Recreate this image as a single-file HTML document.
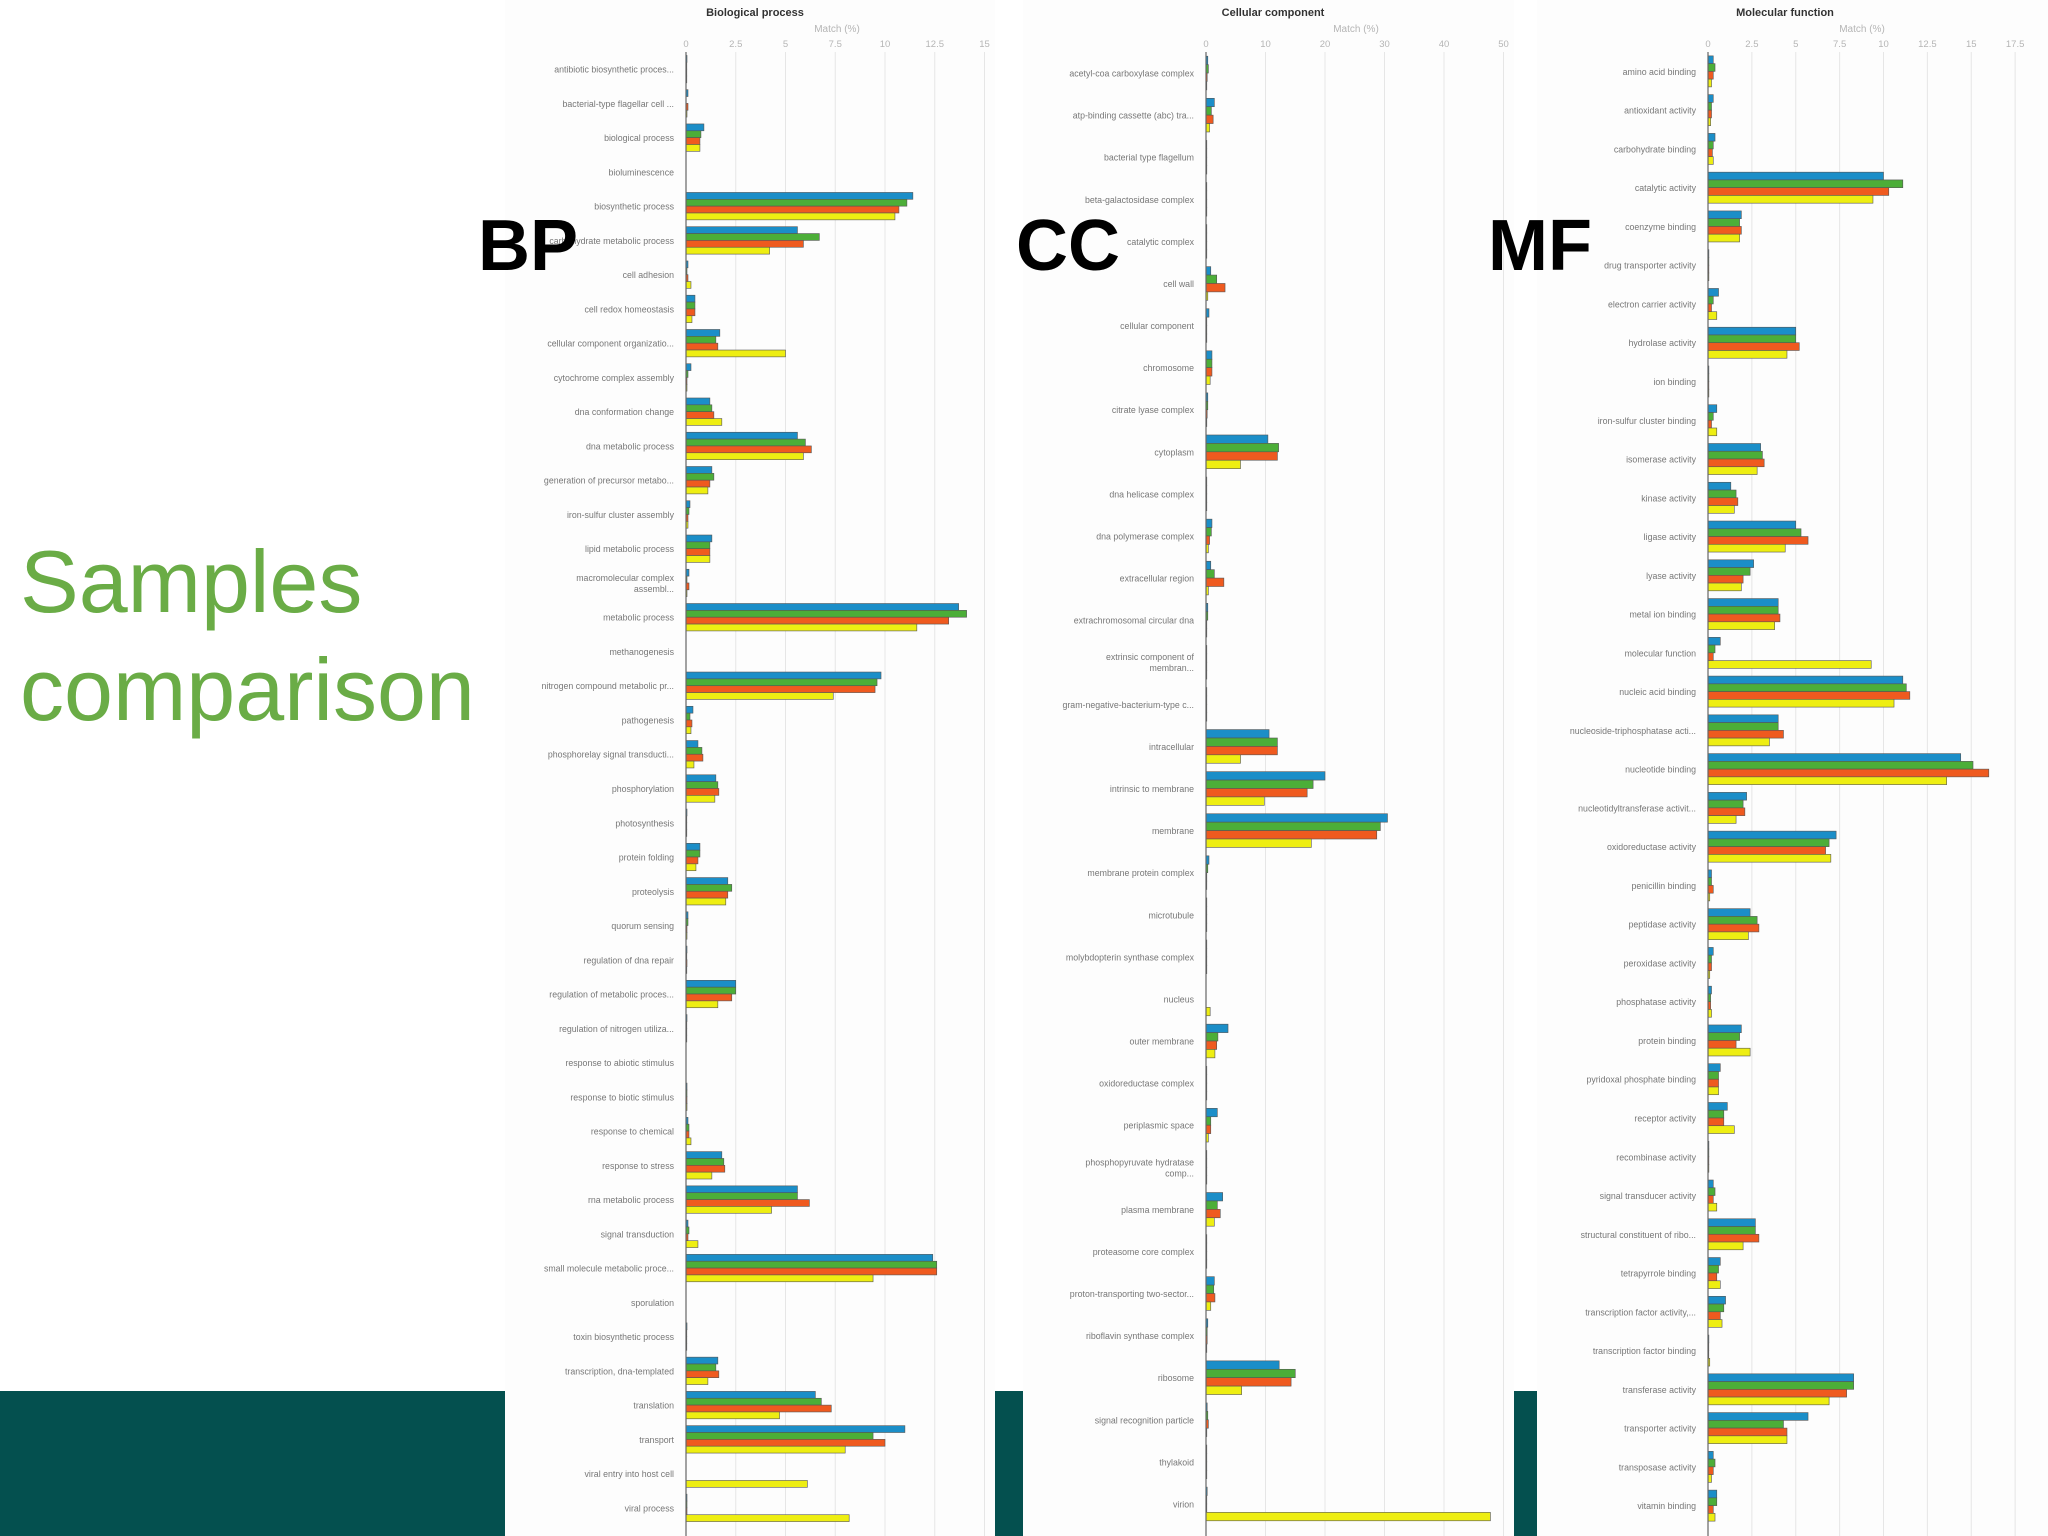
<!DOCTYPE html>
<html><head><meta charset="utf-8">
<style>
html,body{margin:0;padding:0;background:#fff;}
svg{display:block;font-family:"Liberation Sans",Arial,sans-serif;}
</style></head>
<body>
<svg id="root" width="2048" height="1536" viewBox="0 0 2048 1536">
<rect x="0" y="1391" width="505" height="145" fill="#04504f"/>
<rect x="995" y="1391" width="28" height="145" fill="#04504f"/>
<rect x="1514" y="1391" width="23" height="145" fill="#04504f"/>
<rect x="505" y="0" width="490" height="1536" fill="#fdfdfd"/>
<rect x="1023" y="0" width="491" height="1536" fill="#fdfdfd"/>
<rect x="1537" y="0" width="511" height="1536" fill="#fdfdfd"/>
<text x="20" y="612" font-size="88" fill="#6aac46">Samples</text>
<text x="20" y="720" font-size="88" fill="#6aac46">comparison</text>
<g id="charts"></g>
<text x="478" y="270" font-size="72" font-weight="bold" fill="#000">BP</text>
<text x="1016" y="270" font-size="72" font-weight="bold" fill="#000">CC</text>
<text x="1488" y="270" font-size="72" font-weight="bold" fill="#000">MF</text>
</svg>
<script>
const bpCats=["antibiotic biosynthetic proces...","bacterial-type flagellar cell ...","biological process","bioluminescence","biosynthetic process","carbohydrate metabolic process","cell adhesion","cell redox homeostasis","cellular component organizatio...","cytochrome complex assembly","dna conformation change","dna metabolic process","generation of precursor metabo...","iron-sulfur cluster assembly","lipid metabolic process","macromolecular complex|assembl...","metabolic process","methanogenesis","nitrogen compound metabolic pr...","pathogenesis","phosphorelay signal transducti...","phosphorylation","photosynthesis","protein folding","proteolysis","quorum sensing","regulation of dna repair","regulation of metabolic proces...","regulation of nitrogen utiliza...","response to abiotic stimulus","response to biotic stimulus","response to chemical","response to stress","rna metabolic process","signal transduction","small molecule metabolic proce...","sporulation","toxin biosynthetic process","transcription, dna-templated","translation","transport","viral entry into host cell","viral process"];
const bpBlue=[0.05,0.1,0.9,0,11.4,5.6,0.1,0.45,1.7,0.25,1.2,5.6,1.3,0.2,1.3,0.15,13.7,0,9.8,0.35,0.6,1.5,0.05,0.7,2.1,0.1,0.05,2.5,0.05,0,0.05,0.1,1.8,5.6,0.1,12.4,0,0.05,1.6,6.5,11.0,0,0.05];
const bpGreen=[0.03,0,0.75,0,11.1,6.7,0.05,0.45,1.5,0.1,1.3,6.0,1.4,0.15,1.2,0.05,14.1,0,9.6,0.2,0.8,1.6,0.03,0.7,2.3,0.1,0.03,2.5,0.03,0,0.05,0.15,1.9,5.6,0.15,12.6,0,0.03,1.5,6.8,9.4,0,0.05];
const bpOrange=[0.03,0.1,0.7,0,10.7,5.9,0.1,0.45,1.6,0.05,1.4,6.3,1.2,0.1,1.2,0.15,13.2,0,9.5,0.3,0.85,1.65,0.03,0.6,2.1,0.05,0.05,2.3,0.03,0,0.05,0.15,1.95,6.2,0.1,12.6,0,0.03,1.65,7.3,10.0,0,0.05];
const bpYellow=[0.03,0.05,0.7,0,10.5,4.2,0.25,0.3,5.0,0.05,1.8,5.9,1.1,0.1,1.2,0.05,11.6,0,7.4,0.25,0.4,1.45,0.03,0.5,2.0,0.05,0.03,1.6,0.03,0,0.05,0.25,1.3,4.3,0.6,9.4,0,0.03,1.1,4.7,8.0,6.1,8.2];
const bpTicks=[0,2.5,5,7.5,10,12.5,15];

const ccCats=["acetyl-coa carboxylase complex","atp-binding cassette (abc) tra...","bacterial type flagellum","beta-galactosidase complex","catalytic complex","cell wall","cellular component","chromosome","citrate lyase complex","cytoplasm","dna helicase complex","dna polymerase complex","extracellular region","extrachromosomal circular dna","extrinsic component of|membran...","gram-negative-bacterium-type c...","intracellular","intrinsic to membrane","membrane","membrane protein complex","microtubule","molybdopterin synthase complex","nucleus","outer membrane","oxidoreductase complex","periplasmic space","phosphopyruvate hydratase|comp...","plasma membrane","proteasome core complex","proton-transporting two-sector...","riboflavin synthase complex","ribosome","signal recognition particle","thylakoid","virion"];
const ccBlue=[0.3,1.4,0.05,0.05,0.05,0.8,0.5,1.0,0.3,10.4,0.1,1.0,0.8,0.3,0.05,0.05,10.6,20.0,30.5,0.5,0.05,0.1,0,3.7,0.1,1.9,0.05,2.8,0.05,1.4,0.3,12.3,0.2,0.1,0.2];
const ccGreen=[0.4,0.9,0.05,0.05,0.05,1.8,0.05,1.0,0.3,12.2,0.1,0.9,1.4,0.3,0.05,0.05,12.0,18.0,29.3,0.3,0.05,0.1,0,2.0,0.1,0.8,0.05,1.9,0.05,1.3,0.2,15.0,0.3,0.1,0.1];
const ccOrange=[0.2,1.2,0.05,0.05,0.05,3.2,0.05,1.0,0.2,12.0,0.1,0.6,3.0,0.1,0.05,0.05,12.0,17.0,28.7,0.1,0.05,0.1,0,1.8,0.1,0.8,0.05,2.4,0.05,1.5,0.2,14.3,0.4,0.1,0.05];
const ccYellow=[0.1,0.6,0.05,0.05,0.05,0.3,0.05,0.7,0.1,5.8,0.1,0.4,0.4,0.05,0.05,0.05,5.8,9.8,17.7,0.1,0.05,0.1,0.7,1.5,0.1,0.4,0.05,1.4,0.05,0.8,0.1,6.0,0.1,0.1,47.8];
const ccTicks=[0,10,20,30,40,50];

const mfCats=["amino acid binding","antioxidant activity","carbohydrate binding","catalytic activity","coenzyme binding","drug transporter activity","electron carrier activity","hydrolase activity","ion binding","iron-sulfur cluster binding","isomerase activity","kinase activity","ligase activity","lyase activity","metal ion binding","molecular function","nucleic acid binding","nucleoside-triphosphatase acti...","nucleotide binding","nucleotidyltransferase activit...","oxidoreductase activity","penicillin binding","peptidase activity","peroxidase activity","phosphatase activity","protein binding","pyridoxal phosphate binding","receptor activity","recombinase activity","signal transducer activity","structural constituent of ribo...","tetrapyrrole binding","transcription factor activity,...","transcription factor binding","transferase activity","transporter activity","transposase activity","vitamin binding"];
const mfBlue=[0.3,0.3,0.4,10.0,1.9,0.05,0.6,5.0,0.05,0.5,3.0,1.3,5.0,2.6,4.0,0.7,11.1,4.0,14.4,2.2,7.3,0.2,2.4,0.3,0.2,1.9,0.7,1.1,0.05,0.3,2.7,0.7,1.0,0.05,8.3,5.7,0.3,0.5];
const mfGreen=[0.4,0.2,0.3,11.1,1.8,0.05,0.3,5.0,0.05,0.3,3.1,1.6,5.3,2.4,4.0,0.4,11.3,4.0,15.1,2.0,6.9,0.2,2.8,0.2,0.15,1.8,0.6,0.9,0.05,0.4,2.7,0.6,0.9,0.03,8.3,4.3,0.4,0.5];
const mfOrange=[0.3,0.2,0.25,10.3,1.9,0.05,0.2,5.2,0.05,0.2,3.2,1.7,5.7,2.0,4.1,0.3,11.5,4.3,16.0,2.1,6.7,0.3,2.9,0.2,0.15,1.6,0.6,0.9,0.05,0.3,2.9,0.5,0.7,0.03,7.9,4.5,0.3,0.3];
const mfYellow=[0.2,0.15,0.3,9.4,1.8,0.05,0.5,4.5,0.05,0.5,2.8,1.5,4.4,1.9,3.8,9.3,10.6,3.5,13.6,1.6,7.0,0.1,2.3,0.1,0.2,2.4,0.6,1.5,0.05,0.5,2.0,0.7,0.8,0.1,6.9,4.5,0.2,0.4];
const mfTicks=[0,2.5,5,7.5,10,12.5,15,17.5];

const NS="http://www.w3.org/2000/svg";
const colors=["#1b8ec8","#4cae38","#ef5a1f","#eeee12"];
const g=document.getElementById("charts");
function mk(tag,attrs,parent){const e=document.createElementNS(NS,tag);for(const k in attrs)e.setAttribute(k,attrs[k]);(parent||g).appendChild(e);return e;}

function chart(key,title,cats,series,ticks,x0,pxPerUnit,titleX,matchX){
  const top=52,bottom=1525,band=(bottom-top)/cats.length,bh=band*0.8/4;
  const xs=v=>x0+v*pxPerUnit;
  const grp=mk("g",{});
  
  
  const t=mk("text",{x:titleX,y:16,"font-size":11,"font-weight":"bold","text-anchor":"middle",fill:"#333"},grp);
  t.textContent=title;
  
  
  const m=mk("text",{x:matchX,y:32,"font-size":10,"text-anchor":"middle",fill:"#b5b5b5"},grp);
  m.textContent="Match (%)";
  
  
  ticks.forEach(tv=>{
    const x=xs(tv);
    if(tv>0){const l=mk("line",{x1:x,x2:x,y1:top,y2:1536,stroke:"#e6e6e6","stroke-width":1},grp);
      
      }
    const tl=mk("text",{x:x,y:47,"font-size":9.5,"text-anchor":"middle",fill:"#b5b5b5"},grp);
    tl.textContent=String(tv);
    
    
  });
  cats.forEach((c,i)=>{
    const cy=top+band*(i+0.5);
    const parts=c.split("|");
    const lab=mk("text",{x:x0-12,y:cy+3.5-(parts.length-1)*5.5,"font-size":8.8,"text-anchor":"end",fill:"#777"},grp);
    parts.forEach((p,j)=>{const ts=mk("tspan",{x:x0-12,dy:j?11:0},lab);ts.textContent=p;});
    
    
    series.forEach((s,k)=>{
      const v=s[i];
      if(v<=0)return;
      const y=cy-2*bh+k*bh;
      const r=mk("rect",{x:x0,y:y,width:Math.max(xs(v)-x0,0.8),height:bh,fill:colors[k],stroke:"#555","stroke-width":0.6},grp);
      
      
    });
  });
  const ax=mk("line",{x1:x0,x2:x0,y1:top,y2:1536,stroke:"#666","stroke-width":1.2},grp);
  
  
}
chart("bp","Biological process",bpCats,[bpBlue,bpGreen,bpOrange,bpYellow],bpTicks,686,19.9,755,837);
chart("cc","Cellular component",ccCats,[ccBlue,ccGreen,ccOrange,ccYellow],ccTicks,1206,5.95,1273,1356);
chart("mf","Molecular function",mfCats,[mfBlue,mfGreen,mfOrange,mfYellow],mfTicks,1708,17.55,1785,1862);
</script>
</body></html>
